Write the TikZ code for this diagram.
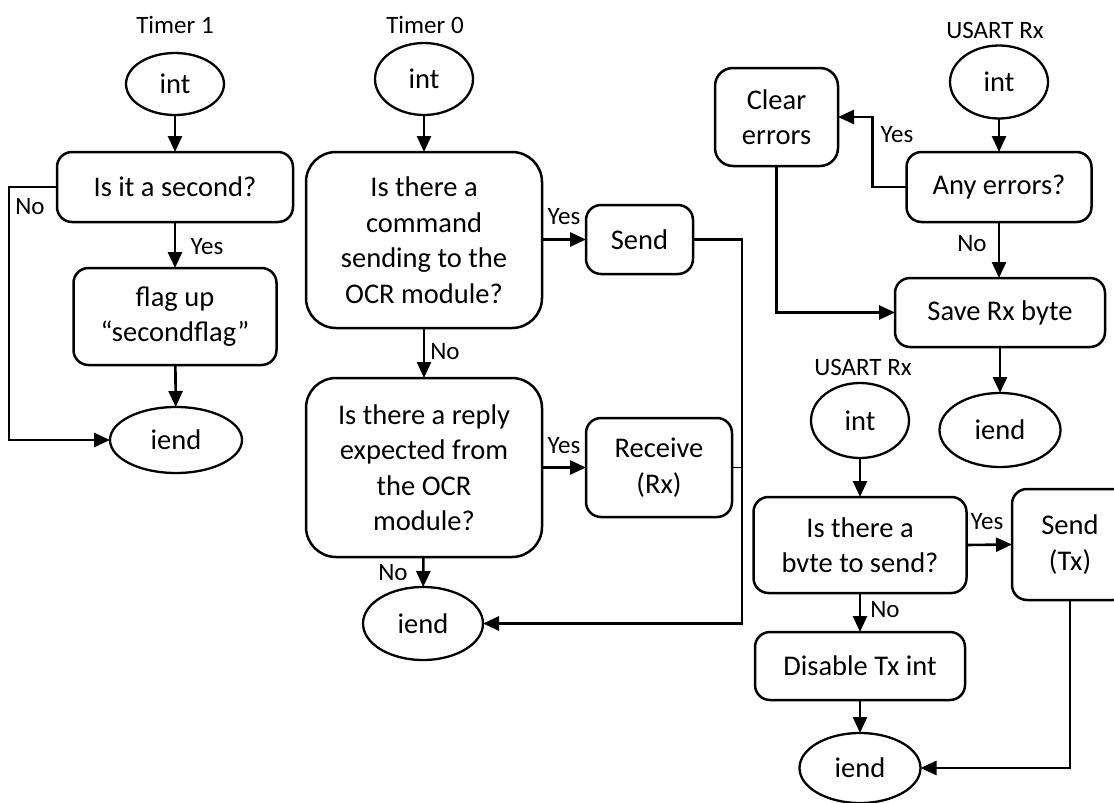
\documentclass[tikz,border=0pt]{standalone}
\usepackage{fontspec}
\setmainfont{Carlito}
\usetikzlibrary{arrows.meta,shapes.geometric}

\tikzset{
  x=1pt, y=-1pt,
  every node/.style={inner sep=0pt, outer sep=0pt},
  main/.style={font=\fontsize{28.5}{35.5}\selectfont, align=center},
  lbl/.style={font=\fontsize{25}{30}\selectfont},
  stepbox/.style={main, draw, line width=2.5pt, rounded corners=15pt},
  bigbox/.style={stepbox, rounded corners=30pt},
  term/.style={main, draw, ellipse, line width=2.3pt},
  flow/.style={line width=2.6pt, -{Triangle[length=16pt,width=14pt]}},
}

\begin{document}
\begin{tikzpicture}
\useasboundingbox (0,0) rectangle (1114,803);

% ---------- Timer 1 ----------
\node[lbl] (t1lbl) at (175,25) {Timer 1};
\node[term, minimum width=98pt, minimum height=62pt] (t1int) at (175,84) {int};
\node[stepbox, minimum width=236pt, minimum height=70pt] (t1q) at (175,187) {Is it a second?};
\node[stepbox, minimum width=203pt, minimum height=97pt] (t1flag) at (175,316.5) {flag up\\“secondflag”};
\node[term, minimum width=132pt, minimum height=66pt] (t1end) at (176,440) {iend};

\draw[flow] (t1int) -- (t1q);
\draw[flow] (t1q) -- (t1flag);
\draw[flow] (t1flag) -- (t1end);
\draw[flow] (t1q.west) -- ++(-48,0) |- (t1end.west);
\node[lbl] (t1no) at (30,207) {No};
\node[lbl] (t1yes) at (207,247) {Yes};

% ---------- Timer 0 ----------
\node[lbl] (t0lbl) at (425,25) {Timer 0};
\node[term, minimum width=98pt, minimum height=72pt] (t0int) at (424,79) {int};
\node[bigbox, minimum width=236pt, minimum height=176pt] (t0q1) at (424,240)
  {Is there a\\command\\sending to the\\OCR module?};
\node[stepbox, minimum width=107pt, minimum height=69pt] (send) at (639.5,239.5) {Send};
\node[bigbox, minimum width=236pt, minimum height=179pt] (t0q2) at (424,467.5)
  {Is there a reply\\expected from\\the OCR\\module?};
\node[stepbox, minimum width=146pt, minimum height=99pt] (recv) at (659,467.5) {Receive\\(Rx)};
\node[term, minimum width=120pt, minimum height=73pt] (t0end) at (423,623.5) {iend};
\coordinate (bus) at (742,467.5);

\draw[flow] (t0int) -- (t0q1);
\draw[flow] (t0q1.east |- send.west) -- (send.west);
\draw[flow] (t0q1) -- (t0q2);
\draw[flow] (t0q2.east |- recv.west) -- (recv.west);
\draw[flow] (t0q2) -- (t0end);
\draw[flow] (send.east) -- ++(49,0) |- (t0end.east);
\draw[line width=1.2pt] (recv.east) -- (bus);
\node[lbl] (t0yes1) at (564,217) {Yes};
\node[lbl] (t0no1) at (445,352) {No};
\node[lbl] (t0yes2) at (564,446) {Yes};
\node[lbl] (t0no2) at (393,573) {No};

% ---------- USART Rx (receive) ----------
\node[lbl] (u1lbl) at (995,30) {USART Rx};
\node[term, minimum width=98pt, minimum height=73pt] (u1int) at (999,82) {int};
\node[stepbox, minimum width=185pt, minimum height=70pt] (anyerr) at (999,187) {Any errors?};
\node[stepbox, minimum width=123pt, minimum height=98pt, rounded corners=18pt] (clear) at (776.5,117) {Clear\\errors};
\node[stepbox, minimum width=210pt, minimum height=69pt] (save) at (1000,312.5) {Save Rx byte};
\node[term, minimum width=121pt, minimum height=74pt] (u1end) at (1000,430) {iend};

\draw[flow] (u1int) -- (anyerr);
\draw[flow] (anyerr.west) -- ++(-34,0) |- (clear.east);
\draw[flow] (anyerr.south) -- (anyerr.south |- save.north);
\draw[flow] (clear.south) |- (save.west);
\draw[flow] (save) -- (u1end);
\node[lbl] (u1yes) at (897,135) {Yes};
\node[lbl] (u1no) at (972,244) {No};

% ---------- USART Rx (transmit) ----------
\node[lbl] (u2lbl) at (863,367) {USART Rx};
\node[term, minimum width=98pt, minimum height=75pt] (u2int) at (860,420.5) {int};
\node[stepbox, minimum width=213pt, minimum height=96pt] (bytq) at (860,545) {Is there a\\bvte to send?};
\node[stepbox, minimum width=116pt, minimum height=111pt] (sendtx) at (1070,544.5) {Send\\(Tx)};
\node[stepbox, minimum width=210pt, minimum height=68pt] (disable) at (860,666) {Disable Tx int};
\node[term, minimum width=121pt, minimum height=70pt] (u2end) at (860,768) {iend};

\draw[flow] (u2int) -- (bytq);
\draw[flow] (bytq.east) -- (sendtx.west);
\draw[flow] (bytq) -- (disable);
\draw[flow] (disable) -- (u2end);
\draw[flow] (sendtx.south) |- (u2end.east);
\node[lbl] (u2yes) at (987,522) {Yes};
\node[lbl] (u2no) at (885,610) {No};
\end{tikzpicture}
\end{document}
